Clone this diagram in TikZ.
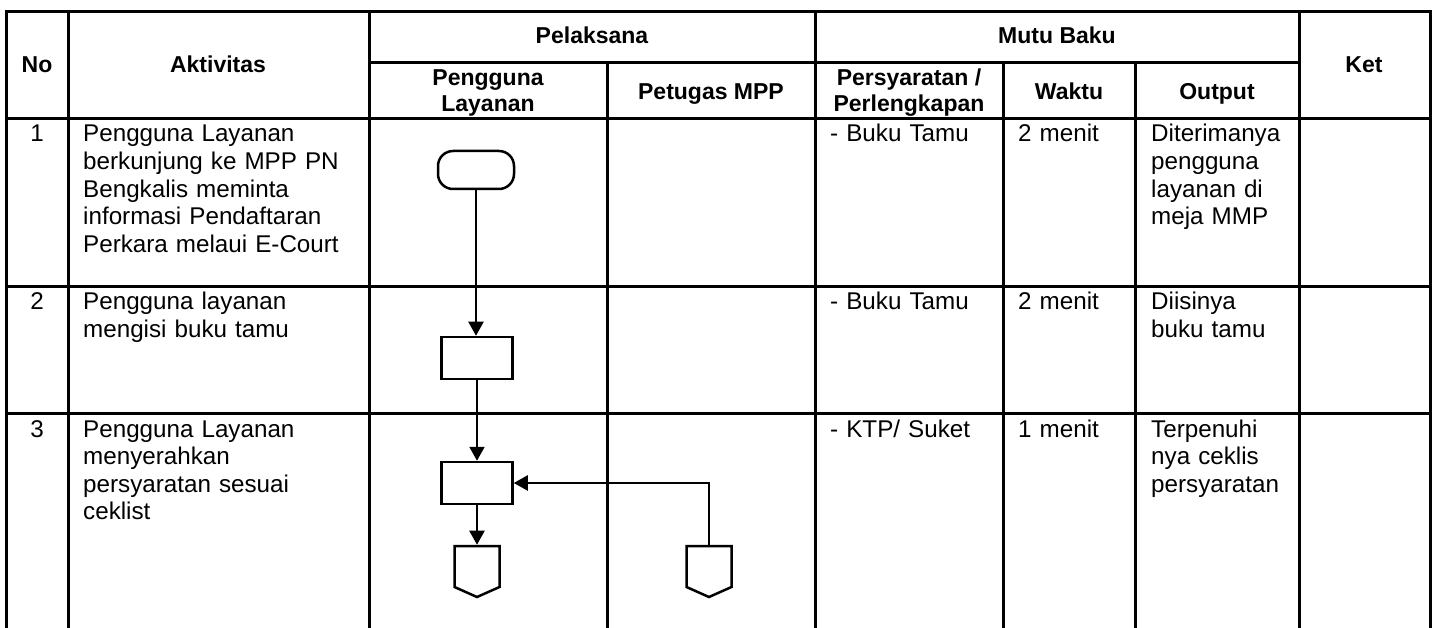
\documentclass[tikz,border=0pt]{standalone}
\usepackage{fontspec}
\setmainfont{Liberation Sans}
\usetikzlibrary{shapes,positioning,arrows,arrows.meta,calc}

\tikzset{
  tabline/.style = {line width=3pt, line cap=rect},
  hd/.style = {font=\fontsize{23}{26}\selectfont\bfseries, align=center, inner sep=0pt},
  txt/.style = {font=\fontsize{24.2}{27.6}\selectfont, anchor=base west, inner sep=0pt, text width=280pt, align=left},
  num/.style = {font=\fontsize{24.2}{27.6}\selectfont, anchor=base, inner sep=0pt},
  term/.style = {draw, line width=2.5pt, rounded corners=15pt, minimum width=76pt, minimum height=38pt},
  proc/.style = {draw, line width=2.5pt, minimum width=71pt, minimum height=42pt},
  offpage/.style = {draw, line width=2.5pt, signal, signal to=south, signal pointer angle=132, minimum width=45pt, minimum height=41pt, inner sep=0pt},
  flow/.style = {line width=2.2pt, -{Triangle[length=14pt,width=15pt]}}
}

\begin{document}
\begin{tikzpicture}[x=1pt,y=-1pt]
  \useasboundingbox (0,0) rectangle (1436,628);

  % table grid
  \draw[tabline] (6,12) -- (1430,12);
  \draw[tabline] (369,63) -- (1299,63);
  \foreach \y in {119,287,414}
    \draw[tabline] (6,\y) -- (1430,\y);
  \foreach \x in {6,68,369,815,1299,1430}
    \draw[tabline] (\x,12) -- (\x,628);
  \foreach \x in {607,1003,1135}
    \draw[tabline] (\x,63) -- (\x,628);

  % header
  \node[hd, anchor=base] (hno) at (37,73) {No};
  \node[hd, anchor=base] (hakt) at (218,73) {Aktivitas};
  \node[hd, anchor=base] (hpel) at (592,44) {Pelaksana};
  \node[hd, anchor=base] (hmutu) at (1057,44) {Mutu Baku};
  \node[hd, anchor=base] (hket) at (1364,73) {Ket};
  \node[hd] (hpeng) at (488,93) {Pengguna\\Layanan};
  \node[hd, anchor=base] (hpet) at (711,100) {Petugas MPP};
  \node[hd] (hsyarat) at (909,93) {Persyaratan /\\Perlengkapan};
  \node[hd, anchor=base] (hwaktu) at (1069,100) {Waktu};
  \node[hd, anchor=base] (hout) at (1217,100) {Output};

  % row 1
  \node[num] (no1) at (37,142) {1};
  \node[txt] (akt1) at (83,142) {Pengguna Layanan\\berkunjung ke MPP PN\\Bengkalis meminta\\informasi Pendaftaran\\Perkara melaui E-Court};
  \node[txt] (syarat1) at (830,142) {- Buku Tamu};
  \node[txt] (waktu1) at (1018,142) {2 menit};
  \node[txt] (out1) at (1151,142) {Diterimanya\\pengguna\\layanan di\\meja MMP};

  % row 2
  \node[num] (no2) at (37,310) {2};
  \node[txt] (akt2) at (83,310) {Pengguna layanan\\mengisi buku tamu};
  \node[txt] (syarat2) at (830,310) {- Buku Tamu};
  \node[txt] (waktu2) at (1018,310) {2 menit};
  \node[txt] (out2) at (1151,310) {Diisinya\\buku tamu};

  % row 3
  \node[num] (no3) at (37,437) {3};
  \node[txt] (akt3) at (83,437) {Pengguna Layanan\\menyerahkan\\persyaratan sesuai\\ceklist};
  \node[txt] (syarat3) at (830,437) {- KTP/ Suket};
  \node[txt] (waktu3) at (1018,437) {1 menit};
  \node[txt] (out3) at (1151,437) {Terpenuhi\\nya ceklis\\persyaratan};

  % flow
  \node[term] (mulai) at (476,170) {};
  \node[proc] (isi) at (477,358) {};
  \node[proc] (serah) at (477,483) {};
  \node[offpage] (konL) at (477,566.5) {};
  \node[offpage] (konR) at (709,566.5) {};

  \draw[flow] (mulai) -- (mulai |- isi.north);
  \draw[flow] (isi) -- (serah);
  \draw[flow] (serah) -- (konL);
  \draw[flow] (konR.north) |- (serah.east);
\end{tikzpicture}
\end{document}
